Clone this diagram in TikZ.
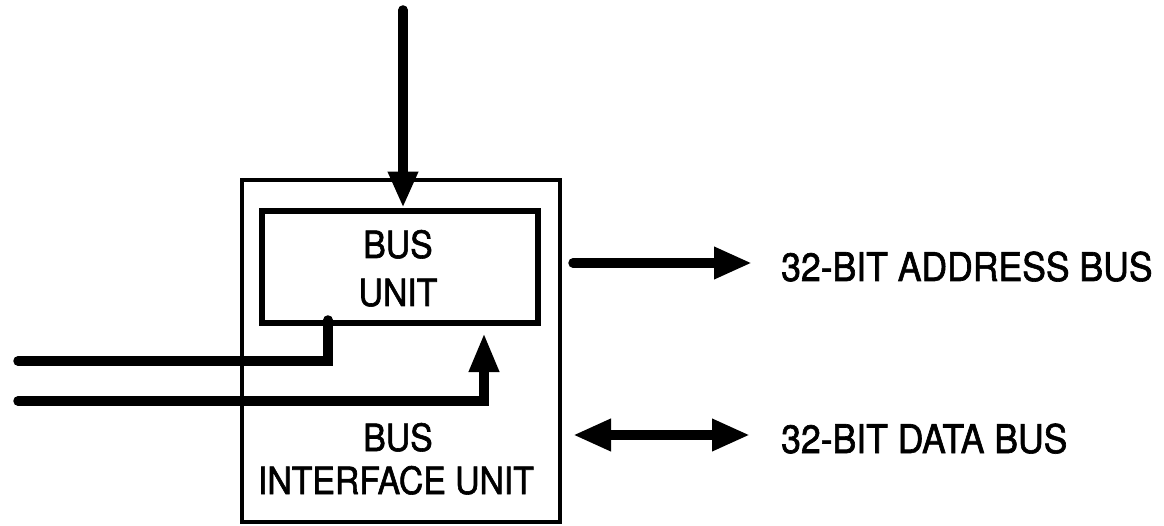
\documentclass[tikz,border=0pt]{standalone}
\usepackage{fontspec}
\setmainfont{TeX Gyre Heros}[FakeStretch=0.9,FakeBold=1.6]
\usetikzlibrary{arrows.meta}
\begin{document}
\begin{tikzpicture}[x=1pt,y=-1pt,
  wire/.style={line width=9.5pt,line cap=round},
  head/.style={-{Triangle[length=38pt,width=30pt]}},
  boxlabel/.style={anchor=base,inner sep=0pt,font=\fontsize{37.5}{40}\selectfont},
  buslabel/.style={anchor=base west,inner sep=0pt,font=\fontsize{39.5}{40}\selectfont}]
\useasboundingbox (0,0) rectangle (1164,526);
% boxes
\node[draw,line width=4.5pt,minimum width=318pt,minimum height=342pt,inner sep=0pt] (biu) at (401,351) {};
\node[draw,line width=6.5pt,minimum width=276pt,minimum height=112pt,inner sep=0pt] (bu) at (400,267) {};
% labels
\node[boxlabel] (bu1) at (398,258) {BUS};
\node[boxlabel] (bu2) at (398,306) {UNIT};
\node[boxlabel] (biu1) at (398,451) {BUS};
\node[boxlabel] (biu2) at (396,494) {INTERFACE UNIT};
\node[buslabel] (addr) at (781,281) {32-BIT ADDRESS BUS};
\node[buslabel] (data) at (781,453) {32-BIT DATA BUS};
% free ends
\coordinate (top) at (403,10);
\coordinate (w1a) at (328,320);
\coordinate (w1b) at (18,361);
\coordinate (w2a) at (18,401);
\coordinate (w2b) at (484,333);
\coordinate (aa) at (573,263);
\coordinate (ab) at (752,263);
\coordinate (da) at (573,435);
\coordinate (db) at (750,435);
% connectors
\draw[wire,-{Triangle[length=36pt,width=28pt]}] (top) -- (top |- bu.north);
\draw[wire] (w1a) |- (w1b);
\draw[wire,-{Triangle[length=39pt,width=28pt]}] (w2a) -| (w2b);
\draw[wire,head] (aa) -- (ab);
\draw[wire,{Triangle[length=38pt,width=30pt]}-{Triangle[length=38pt,width=30pt]}] (da) -- (db);
\end{tikzpicture}
\end{document}
